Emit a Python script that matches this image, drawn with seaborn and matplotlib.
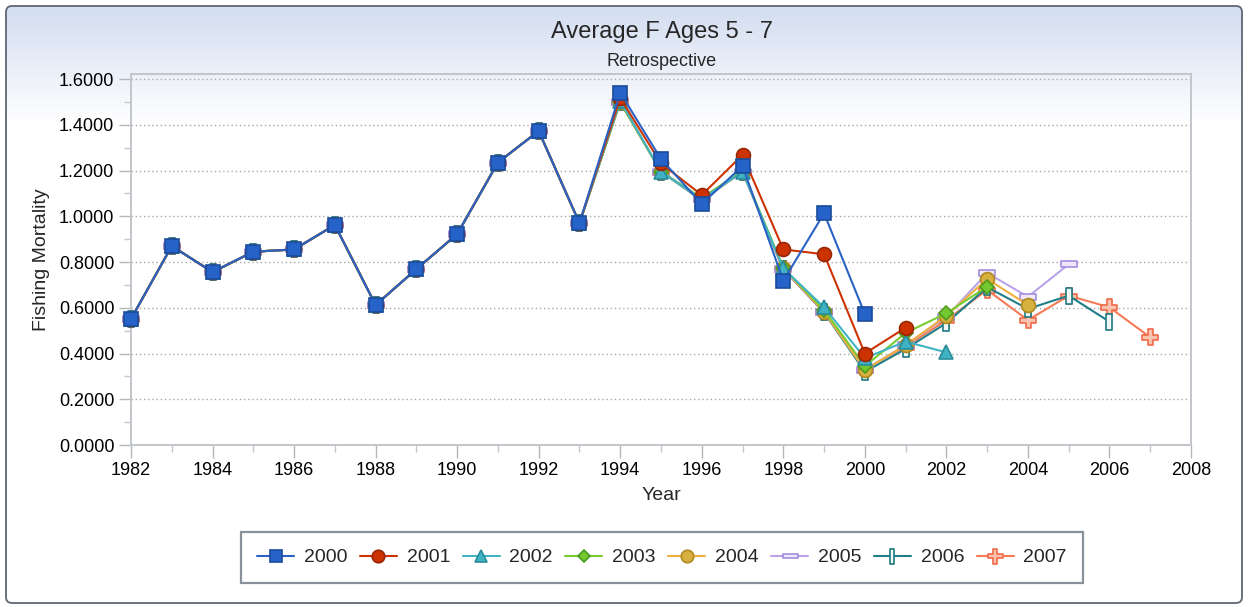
import numpy as np
import pandas as pd
import matplotlib
matplotlib.use("Agg")
import matplotlib.pyplot as plt
from matplotlib.patches import FancyBboxPatch
from matplotlib.path import Path
import matplotlib.ticker as mticker
import seaborn as sns

sns.set_theme(style="white")
plt.rcParams["font.family"] = ["Liberation Sans", "DejaVu Sans"]

# ---- data -------------------------------------------------------------
early_years = list(range(1982, 1994))
early_f = [0.551, 0.870, 0.756, 0.845, 0.855, 0.962, 0.612, 0.769, 0.922, 1.235, 1.373, 0.970]

f_2000 = [1.540, 1.250, 1.054, 1.220, 0.718, 1.013, 0.573]
f_2001 = [1.517, 1.231, 1.093, 1.268, 0.855, 0.834, 0.400, 0.513]
f_2002 = [1.505, 1.195, 1.075, 1.195, 0.772, 0.602, 0.380, 0.452, 0.405]
f_2003 = [1.500, 1.195, 1.080, 1.200, 0.775, 0.590, 0.345, 0.490, 0.576, 0.692]
f_2004 = [1.500, 1.195, 1.075, 1.195, 0.772, 0.583, 0.328, 0.437, 0.565, 0.726, 0.612]
f_2005 = [1.500, 1.195, 1.075, 1.195, 0.770, 0.583, 0.330, 0.437, 0.560, 0.752, 0.648, 0.790]
f_2006 = [1.500, 1.195, 1.070, 1.195, 0.770, 0.580, 0.320, 0.420, 0.533, 0.690, 0.595, 0.653, 0.539]
f_2007 = [1.500, 1.195, 1.075, 1.195, 0.768, 0.580, 0.330, 0.430, 0.546, 0.678, 0.546, 0.653, 0.602, 0.471]

runs = ["2000", "2001", "2002", "2003", "2004", "2005", "2006", "2007"]
tails = [f_2000, f_2001, f_2002, f_2003, f_2004, f_2005, f_2006, f_2007]

rows = []
for run, tail in zip(runs, tails):
    values = early_f + tail
    for i, v in enumerate(values):
        rows.append({"Year": 1982 + i, "F": v, "Run": run})
df = pd.DataFrame(rows)

# ---- marker shapes ----------------------------------------------------
hbar = Path([(-1, -0.32), (1, -0.32), (1, 0.32), (-1, 0.32), (-1, -0.32)],
            [Path.MOVETO, Path.LINETO, Path.LINETO, Path.LINETO, Path.CLOSEPOLY])
vbar = Path([(-0.32, -1), (0.32, -1), (0.32, 1), (-0.32, 1), (-0.32, -1)],
            [Path.MOVETO, Path.LINETO, Path.LINETO, Path.LINETO, Path.CLOSEPOLY])
a = 0.3
plus_v = [(-a, -1), (a, -1), (a, -a), (1, -a), (1, a), (a, a), (a, 1), (-a, 1),
          (-a, a), (-1, a), (-1, -a), (-a, -a), (-a, -1)]
plus = Path(plus_v, [Path.MOVETO] + [Path.LINETO] * 11 + [Path.CLOSEPOLY])

styles = {
    "2000": dict(color="#2A62C4", marker="s", ms=10, mfc="#2563C8", mec="#1B4C9C"),
    "2001": dict(color="#CC3300", marker="o", ms=10, mfc="#CC3300", mec="#992600"),
    "2002": dict(color="#3FB3C4", marker="^", ms=10, mfc="#3FB3C4", mec="#2A8C9A"),
    "2003": dict(color="#78CC30", marker="D", ms=7, mfc="#74C830", mec="#4E9A1E"),
    "2004": dict(color="#F0B040", marker="o", ms=10, mfc="#D8B040", mec="#B08A20"),
    "2005": dict(color="#B9A4EC", marker=hbar, ms=12, mfc="#EEE8FB", mec="#A58DE0"),
    "2006": dict(color="#1F7F88", marker=vbar, ms=12, mfc="#F2F8F8", mec="#1F7A82"),
    "2007": dict(color="#F57A56", marker=plus, ms=12, mfc="#FBC2B0", mec="#F06A48"),
}

# ---- figure & background ----------------------------------------------
fig = plt.figure(figsize=(12.48, 6.07), dpi=100)
fig.patch.set_facecolor("white")

bg = fig.add_axes([0, 0, 1, 1], zorder=-5)
bg.set_xlim(0, 1248)
bg.set_ylim(607, 0)
bg.axis("off")
grad = np.ones((607, 1, 3))
top = np.array([0.835, 0.875, 0.945])
for yy in range(607):
    t = np.clip((yy - 6) / 114.0, 0, 1)
    grad[yy, 0] = top * (1 - t) + np.array([1, 1, 1]) * t
frame = FancyBboxPatch((6, 6), 1236, 597, boxstyle="round,pad=0,rounding_size=6",
                       facecolor="none", edgecolor="#5E6873", linewidth=1.3)
bg.add_patch(frame)
im = bg.imshow(grad, extent=(6, 1242, 603, 6), aspect="auto", zorder=0)
im.set_clip_path(frame)

# ---- main axes ----------------------------------------------------------
ax = fig.add_axes([131 / 1248, 1 - 445 / 607, (1191 - 131) / 1248, (445 - 74) / 607])
ax.set_facecolor("none")

order = runs[::-1]
for z, run in enumerate(order):
    st = styles[run]
    sub = df[df["Run"] == run]
    sns.lineplot(data=sub, x="Year", y="F", ax=ax, color=st["color"], linewidth=1.5,
                 marker=st["marker"], markersize=st["ms"], markerfacecolor=st["mfc"],
                 markeredgecolor=st["mec"], markeredgewidth=1.2, label=run,
                 zorder=3 + z, clip_on=False)

ax.set_xlim(1982, 2008)
ax.set_ylim(0, 1.622)
ax.xaxis.set_major_locator(mticker.MultipleLocator(2))
ax.xaxis.set_minor_locator(mticker.MultipleLocator(1))
ax.yaxis.set_major_locator(mticker.MultipleLocator(0.2))
ax.yaxis.set_minor_locator(mticker.MultipleLocator(0.1))
ax.yaxis.set_major_formatter(mticker.FormatStrFormatter("%.4f"))
ax.tick_params(axis="both", which="major", direction="out", length=9, width=1,
               color="#B4B8BC", labelsize=13, labelcolor="black", pad=3,
               bottom=True, left=True)
ax.tick_params(axis="both", which="minor", direction="out", length=5, width=1,
               color="#C4C8CC", bottom=True, left=True)
ax.grid(axis="y", which="major", linestyle=(0, (1, 2)), color="#A8A8A8", linewidth=1)
for side in ["left", "bottom", "top", "right"]:
    ax.spines[side].set_color("#C2C6CA")
    ax.spines[side].set_linewidth(1.4)

ax.set_xlabel("Year", fontsize=14, labelpad=6)
ax.set_ylabel("Fishing Mortality", fontsize=14, labelpad=6)

fig.text(662 / 1248, 1 - 32 / 607, "Average F Ages 5 - 7", ha="center", va="center", fontsize=17)
fig.text(662 / 1248, 1 - 61 / 607, "Retrospective", ha="center", va="center", fontsize=13)

handles, labels = ax.get_legend_handles_labels()
pairs = sorted(zip(labels, handles), key=lambda p: p[0])
leg = fig.legend([p[1] for p in pairs], [p[0] for p in pairs], loc="center",
                 bbox_to_anchor=(662 / 1248, 1 - 557.5 / 607), ncol=8, fontsize=14,
                 frameon=True, fancybox=False, handlelength=1.9, handletextpad=0.5,
                 columnspacing=0.65, borderpad=0.85, markerscale=0.9)
leg.get_frame().set_edgecolor("#6A7480")
leg.get_frame().set_linewidth(1.6)
leg.get_frame().set_facecolor("white")
if ax.get_legend():
    ax.get_legend().remove()

fig.savefig("out.png", dpi=100)
